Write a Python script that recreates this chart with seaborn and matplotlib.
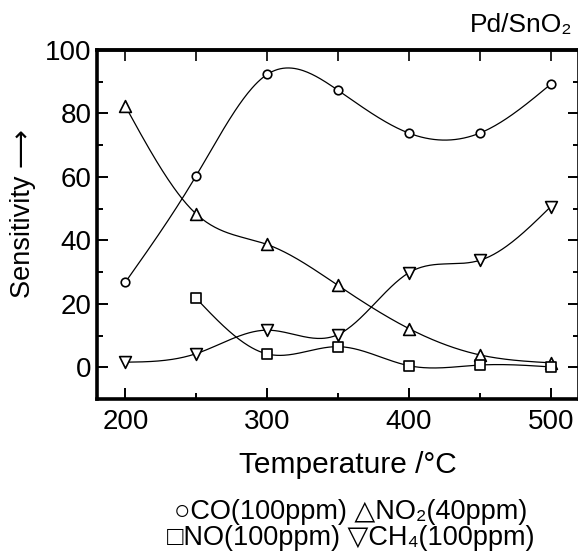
import numpy as np
import pandas as pd
import matplotlib
matplotlib.use("Agg")
import matplotlib.pyplot as plt
from matplotlib.ticker import MultipleLocator
import seaborn as sns

# values
temps = [200, 250, 300, 350, 400, 450, 500]
co = [26.8, 60.4, 92.3, 87.3, 73.8, 73.8, 89.2]
no2 = [82.3, 48.3, 38.7, 25.8, 12.2, 3.9, 1.4]
no_temps = [250, 300, 350, 400, 450, 500]
no = [21.7, 4.2, 6.5, 0.5, 0.7, 0.1]
ch4 = [1.6, 4.3, 11.7, 10.3, 29.8, 33.7, 50.6]

sns.set_theme(style="ticks")
plt.rcParams['font.family'] = ['Liberation Sans', 'DejaVu Sans']
plt.rcParams['text.color'] = 'black'


def smooth(x, y, n=300):
    # natural cubic spline through the measured points
    x = np.asarray(x, float)
    y = np.asarray(y, float)
    h = np.diff(x)
    k = len(x)
    A = np.zeros((k, k))
    r = np.zeros(k)
    A[0, 0] = A[-1, -1] = 1
    for i in range(1, k - 1):
        A[i, i - 1] = h[i - 1]
        A[i, i] = 2 * (h[i - 1] + h[i])
        A[i, i + 1] = h[i]
        r[i] = 3 * ((y[i + 1] - y[i]) / h[i] - (y[i] - y[i - 1]) / h[i - 1])
    c = np.linalg.solve(A, r)
    b = (y[1:] - y[:-1]) / h - h * (2 * c[:-1] + c[1:]) / 3
    d = (c[1:] - c[:-1]) / (3 * h)
    xs = np.linspace(x[0], x[-1], n)
    idx = np.clip(np.searchsorted(x, xs) - 1, 0, k - 2)
    t = xs - x[idx]
    ys = y[idx] + b[idx] * t + c[idx] * t ** 2 + d[idx] * t ** 3
    return xs, ys


series = [
    (temps, co, 'o', 38),
    (temps, no2, '^', 72),
    (no_temps, no, 's', 50),
    (temps, ch4, 'v', 72),
]

fig = plt.figure(figsize=(5.78, 5.53), dpi=100)
ax = fig.add_axes([97 / 578, 1 - 399 / 553, 482 / 578, 349 / 553])

for x, y, m, s in series:
    xs, ys = smooth(x, y)
    sns.lineplot(x=xs, y=ys, ax=ax, color='black', linewidth=0.9, sort=False, zorder=2)
    sns.scatterplot(x=x, y=y, ax=ax, marker=m, s=s, facecolor='white',
                    edgecolor='black', linewidth=1.2, zorder=3)

ax.set_xlim(180, 520)
ax.set_ylim(-10, 100)
ax.xaxis.set_major_locator(MultipleLocator(100))
ax.xaxis.set_minor_locator(MultipleLocator(50))
ax.yaxis.set_major_locator(MultipleLocator(20))
ax.yaxis.set_minor_locator(MultipleLocator(10))
ax.tick_params(which='both', direction='in', left=True, right=True,
               bottom=True, top=False, width=1.4, colors='black')
ax.tick_params(which='major', length=8, labelsize=20, pad=4)
ax.tick_params(which='minor', length=4)
ax.tick_params(axis='x', which='major', pad=7)

top = ax.secondary_xaxis('top')
top.set_xticks([200, 250, 300, 350, 400, 450, 500])
top.tick_params(direction='in', length=8, width=1.4, labeltop=False)
top.spines['top'].set_linewidth(2.6)

for sp in ax.spines.values():
    sp.set_linewidth(2.6)
    sp.set_color('black')
ax.set_xlabel('')
ax.set_ylabel('')

fig.text(23 / 578, 1 - 214 / 553, 'Sensitivity \u27f6', rotation=90,
         ha='center', va='center', fontsize=19.5)
fig.text(348 / 578, 1 - 465 / 553, 'Temperature /\u00b0C',
         ha='center', va='center', fontsize=21.5)
fig.text(573 / 578, 1 - 25 / 553, 'Pd/SnO\u2082',
         ha='right', va='center', fontsize=19)
fig.text(351 / 578, 1 - 512 / 553, '\u25cbCO(100ppm) \u25b3NO\u2082(40ppm)',
         ha='center', va='center', fontsize=19.5)
fig.text(351 / 578, 1 - 538 / 553, '\u25a1NO(100ppm) \u25bdCH\u2084(100ppm)',
         ha='center', va='center', fontsize=19.5)

fig.savefig('out.png', dpi=100)
